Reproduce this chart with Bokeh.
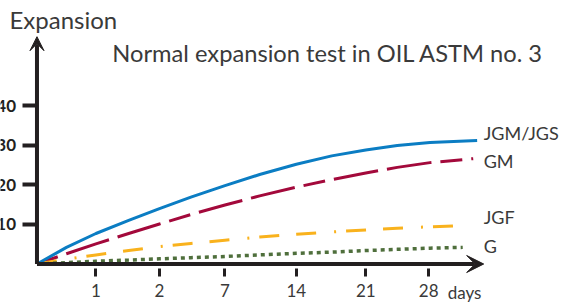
from bokeh.plotting import figure
from bokeh.models import Range1d, FixedTicker, Arrow, VeeHead, Label, LinearAxis
from bokeh.embed import file_html
from bokeh.resources import INLINE

# ---- data ----
day_labels = ["1", "2", "7", "14", "21", "28"]
day_pos = [0.9, 1.87, 2.87, 3.96, 5.02, 5.98]       # compressed day scale of the chart
y_ticks = [10, 20, 30, 40]

x_samples = [0, 0.45, 0.9, 1.4, 1.87, 2.35, 2.87, 3.4, 3.96, 4.5, 5.02, 5.5, 6.0]

jgm_jgs = [0, 4.2, 7.7, 11.0, 14.0, 16.9, 19.8, 22.6, 25.2, 27.3, 28.8, 29.9, 30.7]
jgm_jgs_end = (6.72, 31.2)
gm = [0, 2.6, 5.1, 7.7, 10.1, 12.5, 14.9, 17.2, 19.4, 21.3, 23.0, 24.4, 25.6]
gm_end = (6.66, 26.6)
jgf = [0, 1.2, 2.3, 3.4, 4.4, 5.2, 6.0, 6.8, 7.5, 8.1, 8.6, 9.0, 9.4]
jgf_end = (6.5, 9.7)
g = [0, 0.35, 0.7, 1.0, 1.3, 1.6, 1.9, 2.3, 2.7, 3.0, 3.4, 3.7, 4.0]
g_end = (6.5, 4.2)

FONT = "Lato"
AX = "#231f20"
TXT = "#3a3a3a"

p = figure(width=565, height=302, output_backend="svg", toolbar_location=None,
           x_range=Range1d(-0.557, 8.069), y_range=Range1d(-9.72, 66.54),
           x_axis_type=None, y_axis_type=None, min_border=0)
p.outline_line_color = None
p.background_fill_color = "white"
p.border_fill_color = "white"

# axes (ticks + labels), axis lines drawn as arrows
xaxis = LinearAxis(fixed_location=0, ticker=FixedTicker(ticks=day_pos),
                   major_label_overrides={k: v for k, v in zip(day_pos, day_labels)})
xaxis.axis_line_color = None
xaxis.major_tick_line_color = AX
xaxis.major_tick_line_width = 3
xaxis.major_tick_in = -4
xaxis.major_tick_out = 12
xaxis.minor_tick_line_color = None
xaxis.major_label_standoff = 8
xaxis.major_label_text_font = FONT
xaxis.major_label_text_font_size = "17px"
xaxis.major_label_text_color = TXT
p.add_layout(xaxis, "below")

yaxis = LinearAxis(fixed_location=0, ticker=FixedTicker(ticks=y_ticks))
yaxis.axis_line_color = None
yaxis.major_tick_line_color = AX
yaxis.major_tick_line_width = 4
yaxis.major_tick_in = 0
yaxis.major_tick_out = 14
yaxis.minor_tick_line_color = None
yaxis.major_label_standoff = 7
yaxis.major_label_text_font = FONT
yaxis.major_label_text_font_size = "17px"
yaxis.major_label_text_font_style = "bold"
yaxis.major_label_text_color = AX
p.add_layout(yaxis, "left")

p.add_layout(Arrow(end=VeeHead(size=17, fill_color=AX, line_color=AX),
                   x_start=0, y_start=0, x_end=6.82, y_end=0,
                   line_color=AX, line_width=4))
p.add_layout(Arrow(end=VeeHead(size=14, fill_color=AX, line_color=AX),
                   x_start=0, y_start=0, x_end=0, y_end=57.4,
                   line_color=AX, line_width=4))

# series
p.line(x_samples + [gm_end[0]], gm + [gm_end[1]], line_color="#a3093b", line_width=3,
       line_dash="22 9 45 9 45 9")
p.line(x_samples + [jgf_end[0]], jgf + [jgf_end[1]], line_color="#f9b21d", line_width=3,
       line_dash="20 18 2 10 20 17")
p.line(x_samples + [g_end[0]], g + [g_end[1]], line_color="#4f6f3c", line_width=3.5,
       line_dash="4 4")
p.line(x_samples + [jgm_jgs_end[0]], jgm_jgs + [jgm_jgs_end[1]], line_color="#0b7dc3",
       line_width=3)

# series labels
for txt, yy in [("JGM/JGS", 33.2), ("GM", 25.9), ("JGF", 11.8), ("G", 4.5)]:
    p.add_layout(Label(x=6.82, y=yy, text=txt, text_font=FONT, text_font_size="18px",
                       text_color=TXT, text_baseline="middle", text_align="left"))

p.add_layout(Label(x=6.27, y=-4.5, text="days", text_font=FONT, text_font_size="17px",
                   text_color=TXT, text_baseline="top", text_align="left"))
p.add_layout(Label(x=-0.42, y=61.7, text="Expansion", text_font=FONT, text_font_size="24px",
                   text_color=TXT, text_baseline="alphabetic", text_align="left"))
p.add_layout(Label(x=1.15, y=53.4, text="Normal expansion test in OIL ASTM no. 3",
                   text_font=FONT, text_font_size="23.7px", text_color=TXT,
                   text_baseline="alphabetic", text_align="left"))

open("out.html", "w").write(file_html(p, INLINE))
